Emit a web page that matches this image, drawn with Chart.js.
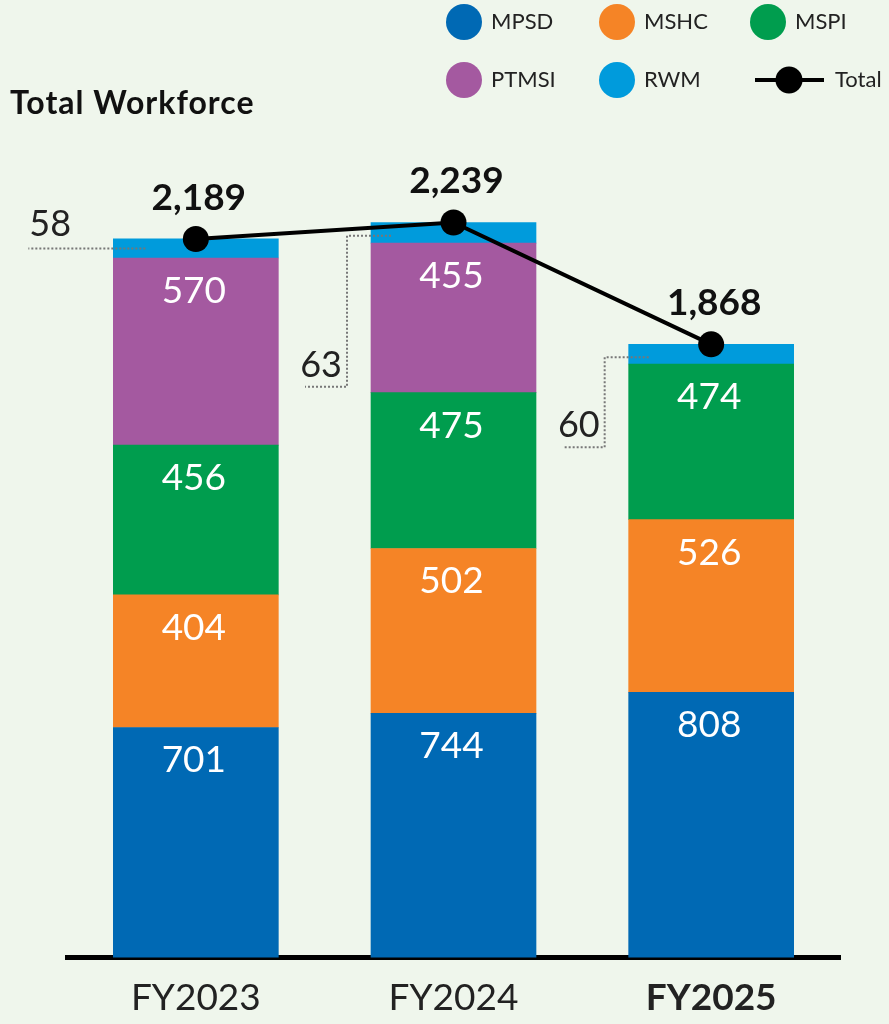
<!DOCTYPE html>
<html>
<head>
<meta charset="utf-8">
<script src="https://cdn.jsdelivr.net/npm/chart.js@4"></script>
<style>
  html, body { margin: 0; padding: 0; background: #eff6ec; }
  #wrap { width: 889px; height: 1024px; position: relative; }
</style>
</head>
<body>
<div id="wrap"><canvas id="workforce"></canvas></div>
<script>
const categories = ['FY2023', 'FY2024', 'FY2025']
const mpsd = [701, 744, 808]
const mshc = [404, 502, 526]
const mspi = [456, 475, 474]
const ptmsi = [570, 455, null]
const rwm = [58, 63, 60]
const totals = [2189, 2239, 1868]

// how far the RWM leader line drops below the bar top (0 = straight line to the left)
const leaderDrop = [0, 151, 90]

const FONT = 'Lato, "Open Sans", sans-serif'

const segmentLabels = {
  id: 'segmentLabels',
  afterDatasetsDraw(chart) {
    const ctx = chart.ctx
    ctx.save()
    ctx.font = '37px ' + FONT
    ctx.fillStyle = '#ffffff'
    ctx.textAlign = 'center'
    ctx.textBaseline = 'middle'
    chart.data.datasets.forEach((ds, i) => {
      if (ds.type === 'line' || ds.label === 'RWM') return
      chart.getDatasetMeta(i).data.forEach((bar, j) => {
        const v = ds.data[j]
        if (!v) return
        ctx.fillText(v.toLocaleString('en-US'), bar.x - 2, bar.y + 33)
      })
    })

    // RWM values sit outside the bars with dotted leaders
    const ri = chart.data.datasets.findIndex(d => d.label === 'RWM')
    ctx.strokeStyle = '#777'
    ctx.lineWidth = 2
    ctx.setLineDash([2, 2])
    ctx.fillStyle = '#222'
    ctx.font = '36px ' + FONT
    ctx.textBaseline = 'alphabetic'
    chart.getDatasetMeta(ri).data.forEach((bar, j) => {
      const left = bar.x - bar.width / 2
      const mid = (bar.y + bar.base) / 2
      const txt = String(chart.data.datasets[ri].data[j])
      ctx.beginPath()
      if (!leaderDrop[j]) {
        ctx.moveTo(left + 32, mid)
        ctx.lineTo(left - 85, mid)
        ctx.stroke()
        ctx.textAlign = 'left'
        ctx.fillText(txt, left - 84, mid - 12)
      } else {
        const vx = left - 24
        const y0 = mid + 3
        const y1 = y0 + leaderDrop[j]
        ctx.moveTo(left + 20, y0)
        ctx.lineTo(vx, y0)
        ctx.lineTo(vx, y1)
        ctx.lineTo(vx - 42, y1)
        ctx.stroke()
        ctx.textAlign = 'right'
        ctx.fillText(txt, vx - 5, y1 - 10)
      }
    })
    ctx.setLineDash([])

    // totals above the line points
    const ti = chart.data.datasets.findIndex(d => d.type === 'line')
    ctx.font = 'bold 37px ' + FONT
    ctx.fillStyle = '#111'
    ctx.textAlign = 'center'
    ctx.textBaseline = 'middle'
    chart.getDatasetMeta(ti).data.forEach((pt, j) => {
      ctx.fillText(totals[j].toLocaleString('en-US'), pt.x + 3, pt.y - 41)
    })
    ctx.restore()
  }
}

const titleAndLegend = {
  id: 'titleAndLegend',
  afterDraw(chart) {
    const ctx = chart.ctx
    ctx.save()
    ctx.fillStyle = '#111'
    ctx.font = 'bold 32px ' + FONT
    ctx.letterSpacing = '1px'
    ctx.textAlign = 'left'
    ctx.textBaseline = 'middle'
    ctx.fillText('Total Workforce', 10, 104)
    ctx.letterSpacing = '0px'

    const cols = [464, 617, 768]
    const rows = [22, 80]
    ctx.font = '22px ' + FONT
    chart.data.datasets.forEach((ds, i) => {
      const x = cols[i % 3]
      const y = rows[Math.floor(i / 3)]
      if (ds.type === 'line') {
        ctx.strokeStyle = '#000'
        ctx.lineWidth = 4
        ctx.beginPath()
        ctx.moveTo(x - 13, y)
        ctx.lineTo(x + 56, y)
        ctx.stroke()
        ctx.fillStyle = '#000'
        ctx.beginPath()
        ctx.arc(x + 21, y, 13.5, 0, Math.PI * 2)
        ctx.fill()
        ctx.fillStyle = '#222'
        ctx.fillText(ds.label, x + 67, y)
      } else {
        ctx.fillStyle = ds.backgroundColor
        ctx.beginPath()
        ctx.arc(x, y, 18, 0, Math.PI * 2)
        ctx.fill()
        ctx.fillStyle = '#222'
        ctx.fillText(ds.label, x + 27, y)
      }
    })
    ctx.restore()
  }
}

function bar(label, data, color) {
  return { type: 'bar', label: label, data: data, backgroundColor: color, stack: 'units', order: 1 }
}

new Chart('workforce', {
  data: {
    labels: categories,
    datasets: [
      bar('MPSD', mpsd, '#0069b4'),
      bar('MSHC', mshc, '#f58426'),
      bar('MSPI', mspi, '#009d4e'),
      bar('PTMSI', ptmsi, '#a459a0'),
      bar('RWM', rwm, '#009bdc'),
      {
        type: 'line',
        label: 'Total',
        data: totals,
        stack: 'total',
        order: 0,
        borderColor: '#000',
        borderWidth: 4,
        pointRadius: 13,
        pointBackgroundColor: '#000',
        pointBorderWidth: 0
      }
    ]
  },
  options: {
    responsive: true,
    maintainAspectRatio: false,
    animation: false,
    layout: { padding: { top: 104, left: 67, right: 49, bottom: -14 } },
    datasets: { bar: { barThickness: 165 } },
    plugins: {
      legend: { display: false },
      tooltip: { enabled: false }
    },
    scales: {
      x: {
        stacked: true,
        z: 1,
        grid: { display: false, drawTicks: false },
        border: { display: true, color: '#000', width: 5 },
        ticks: {
          padding: 18,
          color: '#222',
          font: ctx => ({ family: FONT, size: 37, weight: ctx.index === 2 ? 'bold' : 'normal' })
        }
      },
      y: {
        stacked: true,
        display: false,
        min: 0,
        max: 2600
      }
    }
  },
  plugins: [segmentLabels, titleAndLegend]
})
</script>
</body>
</html>
